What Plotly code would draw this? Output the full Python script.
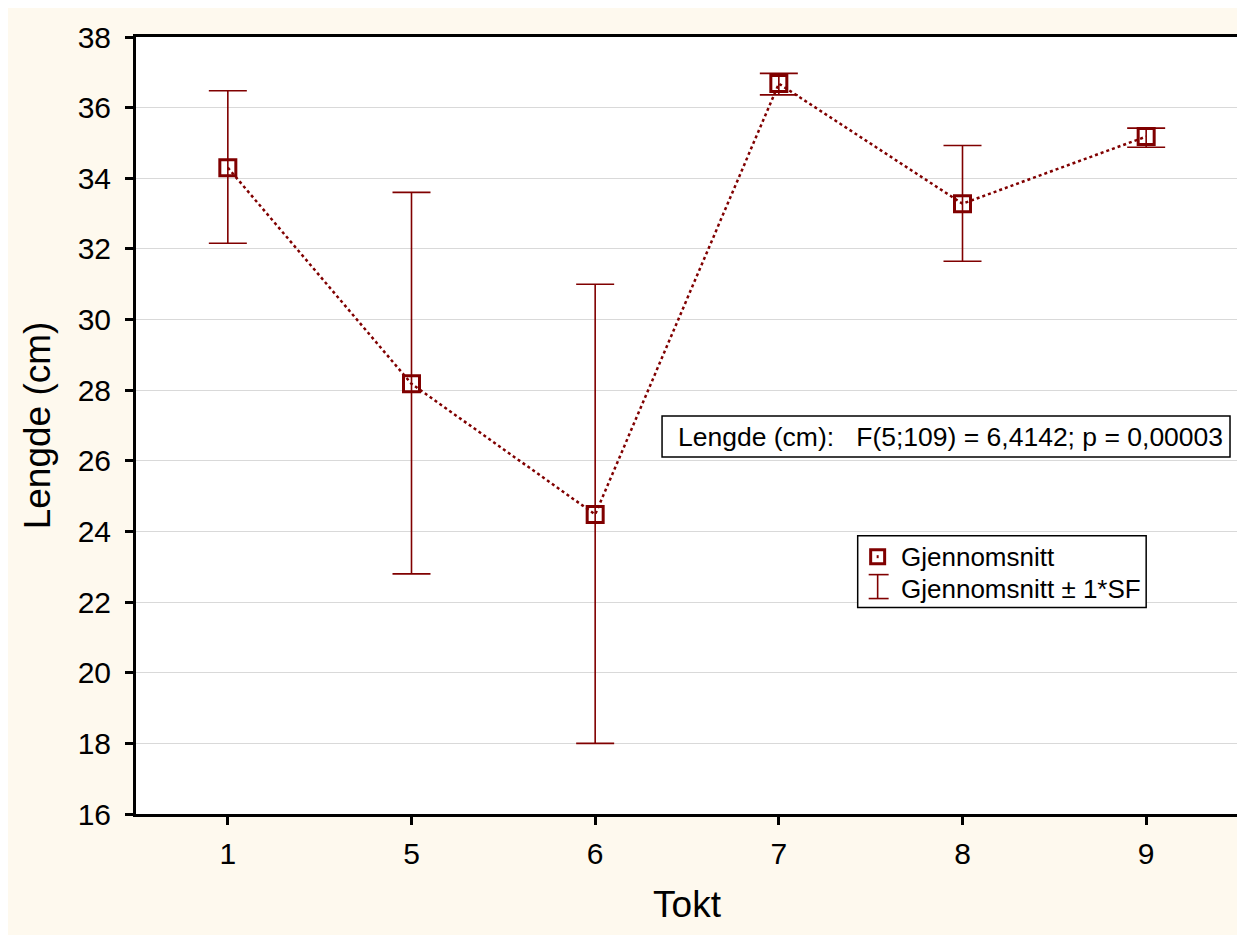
import plotly.graph_objects as go

# ---- data ----
tokt = ["1", "5", "6", "7", "8", "9"]
mean_len = [34.30, 28.18, 24.48, 36.68, 33.28, 35.18]
upper = [36.48, 33.60, 31.00, 36.97, 34.93, 35.42]
lower = [32.16, 22.80, 18.00, 36.36, 31.65, 34.88]
y_ticks = [16, 18, 20, 22, 24, 26, 28, 30, 32, 34, 36, 38]
stat_text = "Lengde (cm):   F(5;109) = 6,4142; p = 0,00003"
legend_labels = ["Gjennomsnitt", "Gjennomsnitt ± 1*SF"]

RED = "#800000"
CREAM = "#FEF9EE"
FONT = "Liberation Sans, Arial, sans-serif"

W, H = 1245, 935
OFF = 8  # page body margin
# plot area in page pixels
PL, PR, PT, PB = 136, 1240, 35, 814
L, R, T, B = PL - OFF, PR - OFF, PT - OFF, PB - OFF

def px(x):
    return (x - PL) / (PR - PL)

def py(y):
    return (PB - y) / (PB - PT)

err_plus = [u - m for u, m in zip(upper, mean_len)]
err_minus = [m - l for m, l in zip(mean_len, lower)]

fig = go.Figure()
fig.add_trace(go.Scatter(
    x=tokt, y=mean_len, mode="lines+markers",
    line=dict(color=RED, width=2.5, dash="dot"),
    marker=dict(symbol="square-open", size=16, color=RED, line=dict(width=3, color=RED)),
    error_y=dict(type="data", symmetric=False, array=err_plus, arrayminus=err_minus,
                 color=RED, thickness=1.6, width=19),
    showlegend=False,
))

shapes = []
# statistic box
shapes.append(dict(type="rect", xref="paper", yref="paper", x0=px(663), x1=px(1232), y0=py(456), y1=py(415),
                   fillcolor="white", line=dict(color="black", width=1.5)))
# legend box
shapes.append(dict(type="rect", xref="paper", yref="paper", x0=px(859), x1=px(1148), y0=py(607), y1=py(535),
                   fillcolor="white", line=dict(color="black", width=1.5)))
# legend icon 1: square with dot
shapes.append(dict(type="rect", xref="paper", yref="paper", x0=px(872), x1=px(886), y0=py(563), y1=py(549),
                   line=dict(color=RED, width=3)))
shapes.append(dict(type="line", xref="paper", yref="paper", x0=px(878), x1=px(880), y0=py(556), y1=py(556),
                   line=dict(color=RED, width=3)))
# legend icon 2: I-beam
shapes.append(dict(type="line", xref="paper", yref="paper", x0=px(879), x1=px(879), y0=py(598), y1=py(574),
                   line=dict(color=RED, width=1.6)))
shapes.append(dict(type="line", xref="paper", yref="paper", x0=px(870), x1=px(890), y0=py(574), y1=py(574),
                   line=dict(color=RED, width=1.6)))
shapes.append(dict(type="line", xref="paper", yref="paper", x0=px(870), x1=px(890), y0=py(598), y1=py(598),
                   line=dict(color=RED, width=1.6)))

annotations = [
    dict(text=stat_text, xref="paper", yref="paper", x=px(677), y=py(436), xanchor="left", yanchor="middle",
         showarrow=False, font=dict(family=FONT, size=26.5, color="black")),
    dict(text=legend_labels[0], xref="paper", yref="paper", x=px(900), y=py(556), xanchor="left", yanchor="middle",
         showarrow=False, font=dict(family=FONT, size=26, color="black")),
    dict(text=legend_labels[1], xref="paper", yref="paper", x=px(900), y=py(588), xanchor="left", yanchor="middle",
         showarrow=False, font=dict(family=FONT, size=26, color="black")),
]

fig.update_layout(
    width=W, height=H,
    margin=dict(l=L, r=W - R, t=T, b=H - B, pad=0),
    paper_bgcolor=CREAM, plot_bgcolor="white",
    font=dict(family=FONT, color="black"),
    shapes=shapes, annotations=annotations,
    showlegend=False,
)
fig.update_xaxes(
    type="category", range=[-0.5, 5.5],
    showline=True, mirror=True, linecolor="black", linewidth=3,
    ticks="outside", ticklen=8, tickwidth=3, tickcolor="black",
    showgrid=False, zeroline=False,
    tickfont=dict(family=FONT, size=30), ticklabelstandoff=3,
    title=dict(text="Tokt", font=dict(family=FONT, size=37), standoff=23),
)
fig.update_yaxes(
    range=[16, 38], tickvals=y_ticks,
    showline=True, mirror=True, linecolor="black", linewidth=3,
    ticks="outside", ticklen=8, tickwidth=3, tickcolor="black",
    showgrid=True, gridcolor="#D9D9D9", gridwidth=1, zeroline=False,
    tickfont=dict(family=FONT, size=30), ticklabelstandoff=8,
    title=dict(text="Lengde (cm)", font=dict(family=FONT, size=37), standoff=16),
)

fig.write_html("out.html")
